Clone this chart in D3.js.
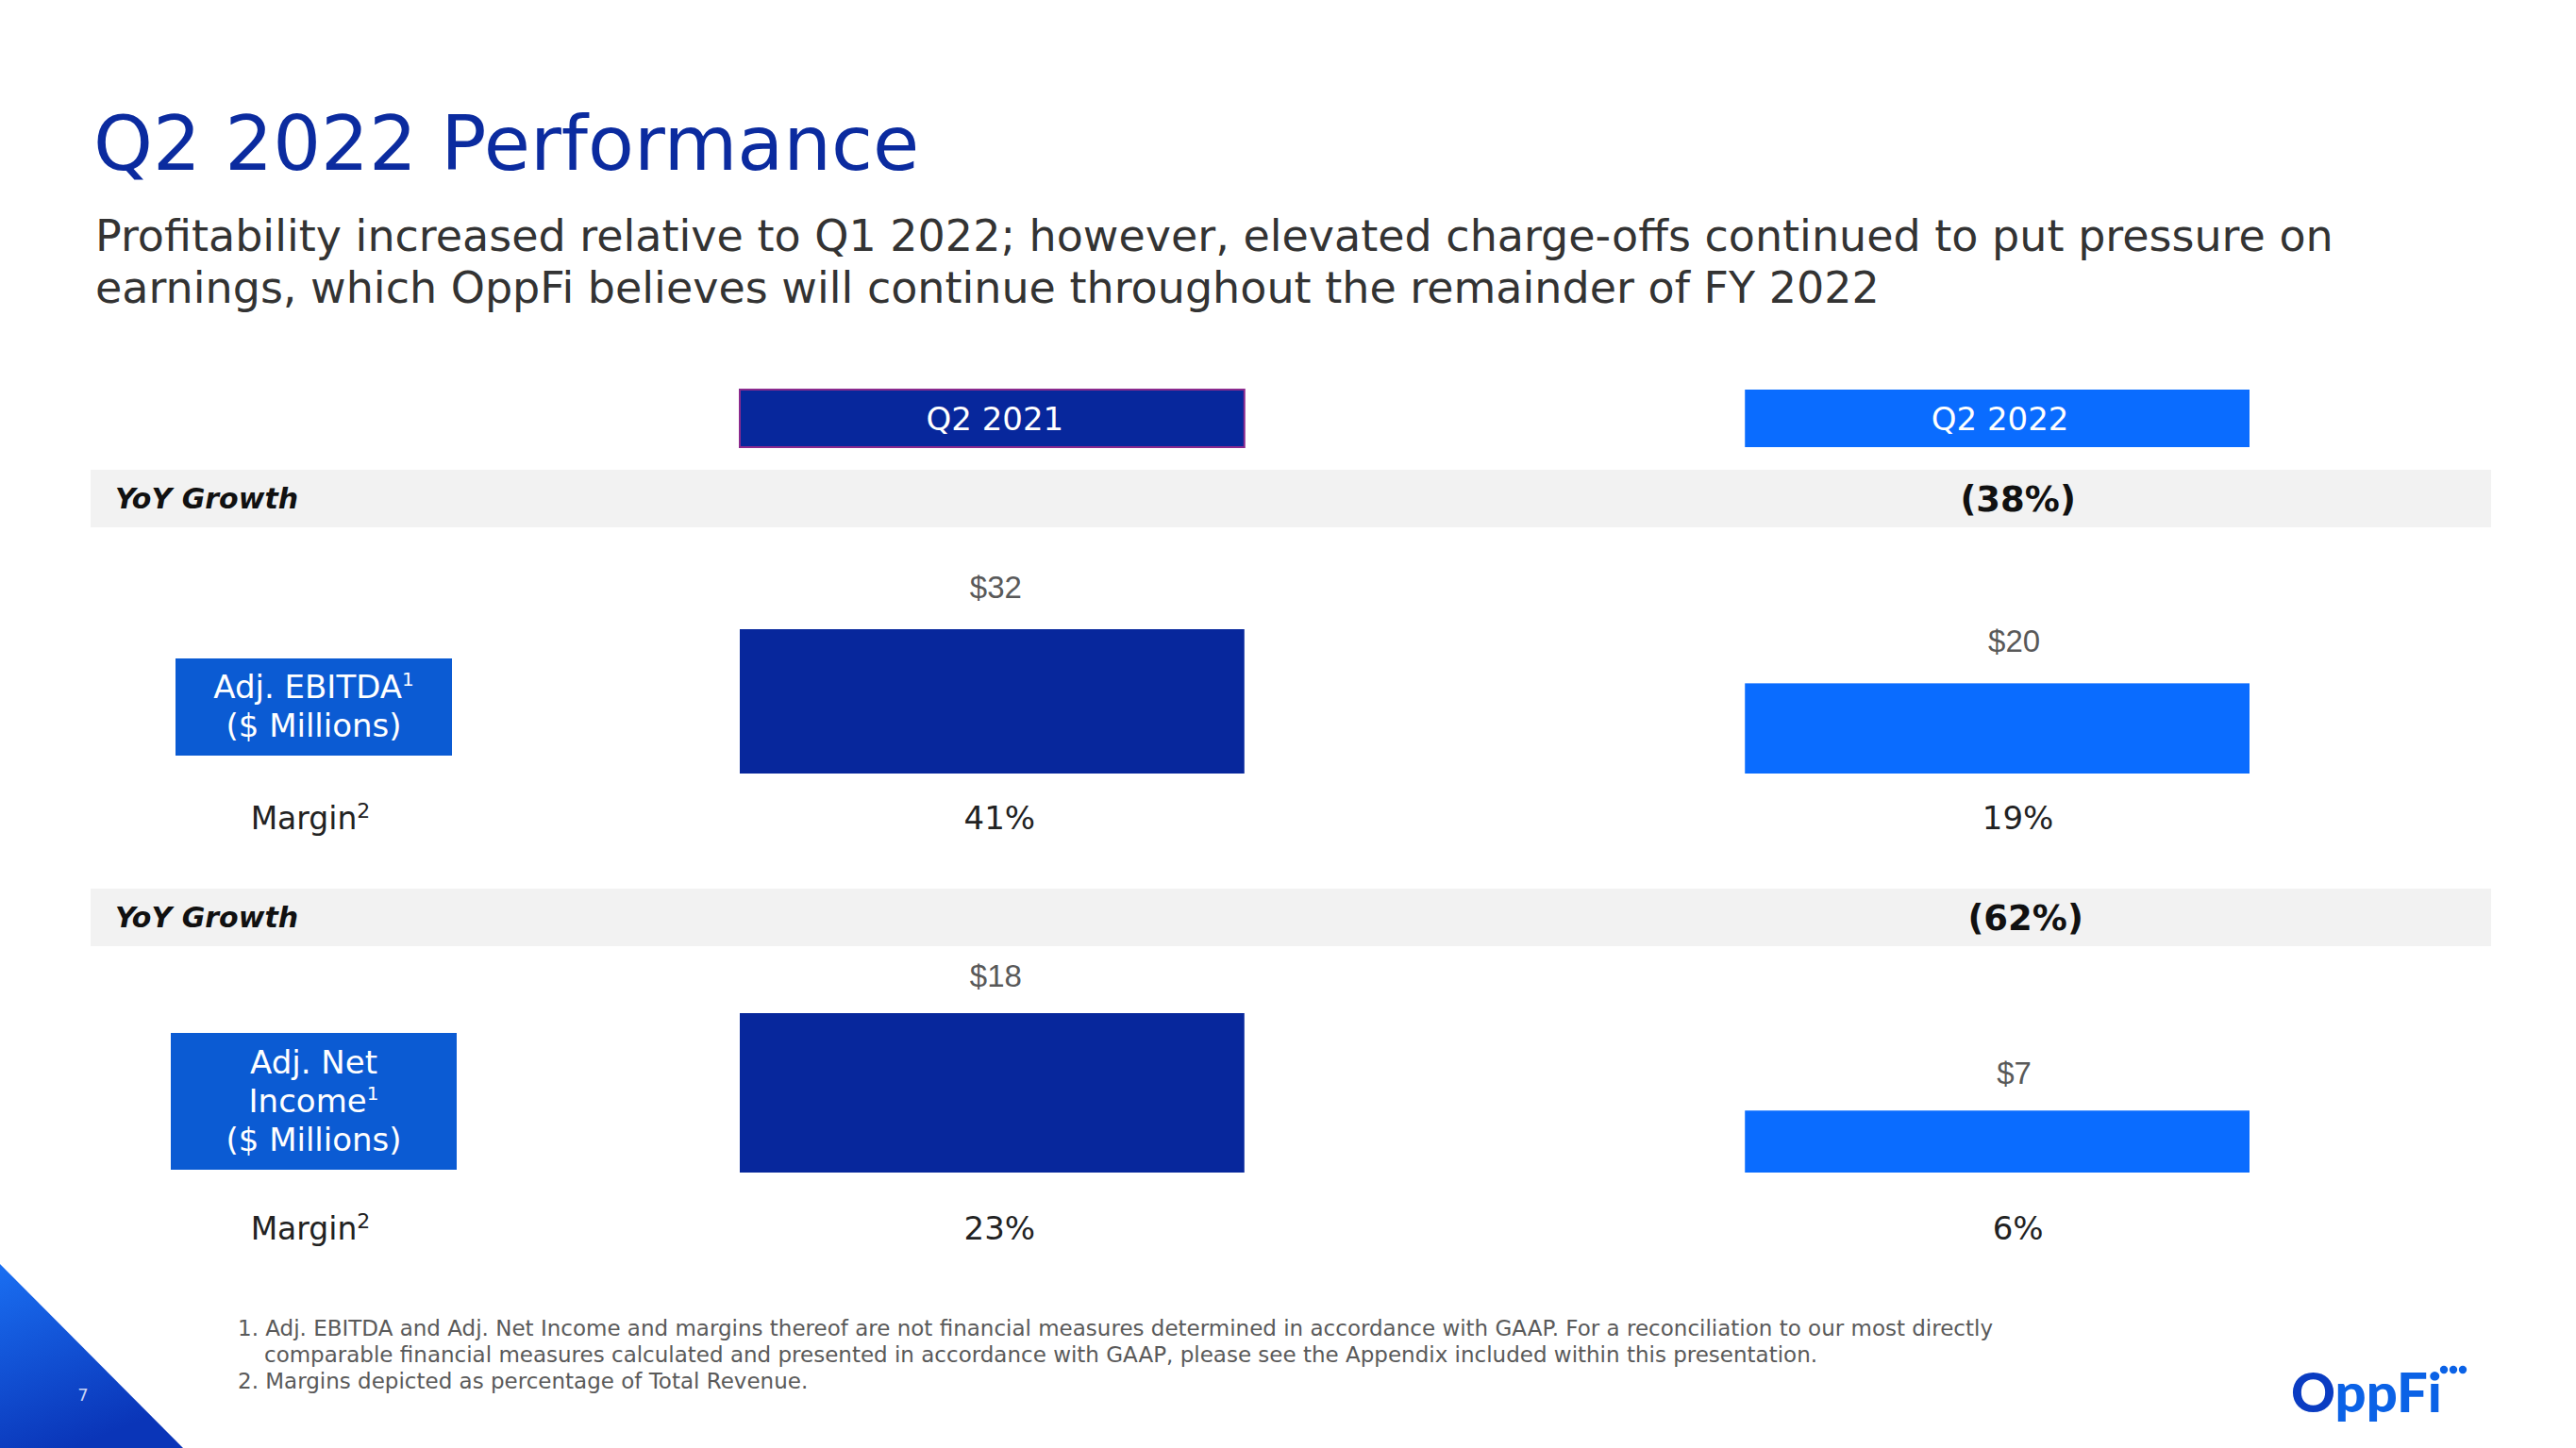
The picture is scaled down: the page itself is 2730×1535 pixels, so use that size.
<!DOCTYPE html>
<html><head><meta charset="utf-8">
<script src="https://cdn.jsdelivr.net/npm/d3@7"></script>
<style>html,body{margin:0;padding:0;background:#fff;}svg{display:block;}</style>
</head><body>
<svg id="chart" width="2730" height="1535"></svg>
<script>
// ---- data ----
const periods = ["Q2 2021", "Q2 2022"];
const ebitda = [32, 20];
const ebitdaMargin = [41, 19];
const ebitdaYoY = [null, -38];
const netIncome = [18, 7];
const netIncomeMargin = [23, 6];
const netIncomeYoY = [null, -62];
const footnotes = [
  "1. Adj. EBITDA and Adj. Net Income and margins thereof are not financial measures determined in accordance with GAAP. For a reconciliation to our most directly",
  "comparable financial measures calculated and presented in accordance with GAAP, please see the Appendix included within this presentation.",
  "2. Margins depicted as percentage of Total Revenue."
];

const NAVY = "#07279c", BRIGHT = "#0a6cff", LABELBOX = "#0b5bd3", TITLE = "#0b2b9f";
const svg = d3.select("#chart");

// background triangle bottom-left
const defs = svg.append("defs");
const grad = defs.append("linearGradient").attr("id","tri").attr("x1","0").attr("y1","0").attr("x2","0.4").attr("y2","1");
grad.append("stop").attr("offset","0").attr("stop-color","#1a6ff2");
grad.append("stop").attr("offset","1").attr("stop-color","#0a35b8");
svg.append("path").attr("d","M0,1340 L194,1535 L0,1535 Z").attr("fill","url(#tri)");
svg.append("text").attr("x",88).attr("y",1485).attr("text-anchor","middle")
  .attr("font-family","DejaVu Sans").attr("font-size",18).attr("fill","#c8d4f5").text("7");

// Title & subtitle
svg.append("text").attr("x",99).attr("y",180).attr("font-family","DejaVu Sans")
  .attr("font-size",80).attr("fill",TITLE).text("Q2 2022 Performance");
const sub = svg.append("text").attr("font-family","DejaVu Sans").attr("font-size",46).attr("fill","#333");
sub.append("tspan").attr("x",101).attr("y",266).text("Profitability increased relative to Q1 2022; however, elevated charge-offs continued to put pressure on");
sub.append("tspan").attr("x",101).attr("y",321).text("earnings, which OppFi believes will continue throughout the remainder of FY 2022");

// x band scale
const x = d3.scaleBand().domain(periods).range([784, 2384]).paddingInner(0.498);
const colors = d3.scaleOrdinal().domain(periods).range([NAVY, BRIGHT]);
const textShift = d3.scaleOrdinal().domain(periods).range([8, 22]);

// headers
const hdr = svg.append("g");
hdr.selectAll("rect").data(periods).join("rect")
  .attr("x", d => x(d)).attr("y", 413).attr("width", x.bandwidth()).attr("height", 61)
  .attr("fill", d => colors(d))
  .attr("stroke", (d,i) => i === 0 ? "#8b2a8e" : "none").attr("stroke-width", 2);
hdr.selectAll("text").data(periods).join("text")
  .attr("x", d => x(d) + x.bandwidth()/2 + 3).attr("y", 456).attr("text-anchor","middle")
  .attr("font-family","DejaVu Sans").attr("font-size",34).attr("fill","#fff").text(d => d);

// panels
const panels = [
  {values: ebitda, margins: ebitdaMargin, yoy: ebitdaYoY, bandY: 498, base: 820, maxH: 153, marginY: 879,
   labelBox: [186, 698, 293, 103], labelLines: [["Adj. EBITDA","1"],["($ Millions)",""]], labelY0: 740, valGap: 33, yoyShift: 0},
  {values: netIncome, margins: netIncomeMargin, yoy: netIncomeYoY, bandY: 942, base: 1243, maxH: 169, marginY: 1314,
   labelBox: [181, 1095, 303, 145], labelLines: [["Adj. Net",""],["Income","1"],["($ Millions)",""]], labelY0: 1138, valGap: 28, yoyShift: 8}
];

panels.forEach(p => {
  const g = svg.append("g");
  // gray YoY band
  g.append("rect").attr("x",96).attr("y",p.bandY).attr("width",2544).attr("height",61).attr("fill","#f2f2f2");
  g.append("text").attr("x",122).attr("y",p.bandY+41).attr("font-family","DejaVu Sans")
    .attr("font-weight","bold").attr("font-style","italic").attr("font-size",30).attr("fill","#111").text("YoY Growth");
  g.selectAll("text.yoy").data(periods.map((d,i)=>({d, v:p.yoy[i]})).filter(o=>o.v!==null)).join("text")
    .attr("class","yoy").attr("x", o => x(o.d)+x.bandwidth()/2 + textShift(o.d) + p.yoyShift).attr("y", p.bandY+44).attr("text-anchor","middle")
    .attr("font-family","DejaVu Sans").attr("font-weight","bold").attr("font-size",37).attr("fill","#111")
    .text(o => "(" + Math.abs(o.v) + "%)");

  // label box
  const [bx,by,bw,bh] = p.labelBox;
  g.append("rect").attr("x",bx).attr("y",by).attr("width",bw).attr("height",bh).attr("fill",LABELBOX);
  const lt = g.append("text").attr("text-anchor","middle").attr("font-family","DejaVu Sans").attr("font-size",34).attr("fill","#fff");
  p.labelLines.forEach((ln, i) => {
    lt.append("tspan").attr("x", bx+bw/2).attr("y", p.labelY0 + i*41).text(ln[0]);
    if (ln[1]) lt.append("tspan").attr("font-size",20).attr("dy",-13).text(ln[1]);
  });

  // bars
  const y = d3.scaleLinear().domain([0, d3.max(p.values)]).range([0, p.maxH]);
  const data = periods.map((d,i)=>({d, v:p.values[i], m:p.margins[i]}));
  g.selectAll("rect.bar").data(data).join("rect").attr("class","bar")
    .attr("x", o => x(o.d)).attr("y", o => p.base - y(o.v))
    .attr("width", x.bandwidth()).attr("height", o => y(o.v)).attr("fill", o => colors(o.d));
  g.selectAll("text.val").data(data).join("text").attr("class","val")
    .attr("x", o => x(o.d)+x.bandwidth()/2 + textShift(o.d) - 4).attr("y", o => p.base - y(o.v) - p.valGap).attr("text-anchor","middle")
    .attr("font-family","Liberation Sans").attr("font-size",33).attr("fill","#595959").text(o => "$" + o.v);

  // margins
  const mt = g.append("text").attr("x",329).attr("y",p.marginY).attr("text-anchor","middle")
    .attr("font-family","DejaVu Sans").attr("font-size",33).attr("fill","#222");
  mt.append("tspan").text("Margin");
  mt.append("tspan").attr("font-size",22).attr("dy",-12).text("2");
  g.selectAll("text.mg").data(data).join("text").attr("class","mg")
    .attr("x", o => x(o.d)+x.bandwidth()/2 + textShift(o.d)).attr("y", p.marginY).attr("text-anchor","middle")
    .attr("font-family","DejaVu Sans").attr("font-size",34).attr("fill","#222").text(o => o.m + "%");
});

// footnotes
const fn = svg.append("g").attr("font-family","DejaVu Sans").attr("font-size",23).attr("fill","#5a5a5a");
fn.selectAll("text").data(footnotes).join("text")
  .attr("x", (d,i) => i === 1 ? 280 : 252).attr("y", (d,i) => 1416 + i*28).text(d => d);

// logo
const logo = svg.append("text").attr("x",2428).attr("y",1497).attr("font-family","Lato")
  .attr("font-weight","900").attr("font-size",58);
logo.append("tspan").attr("fill","#0a3cc2").text("O");
logo.append("tspan").attr("fill","#0b62e6").text("ppFi");
svg.append("g").selectAll("circle").data([0,1,2]).join("circle")
  .attr("cx", d => 2590 + d*10).attr("cy",1452).attr("r",4.2).attr("fill","#0b62e6");
</script>
</body></html>
